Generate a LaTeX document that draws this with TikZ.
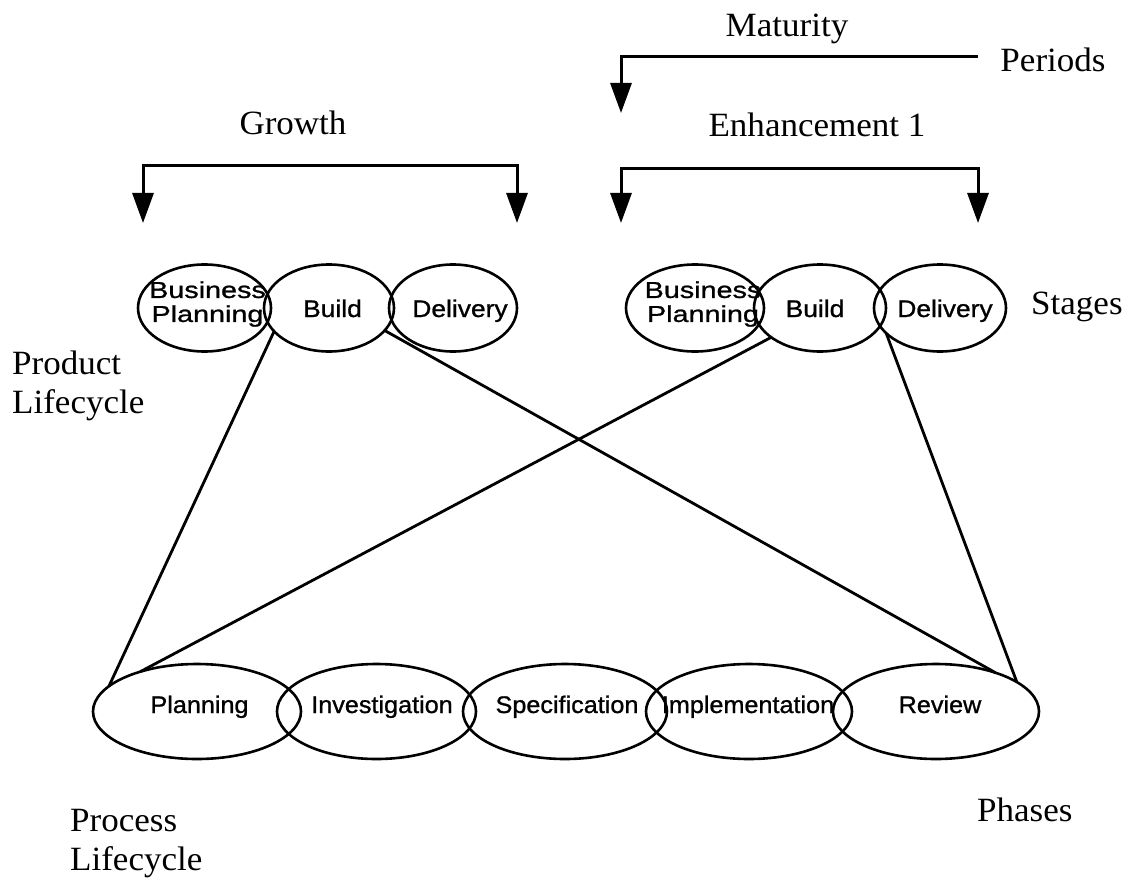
\documentclass[tikz,border=0pt]{standalone}
\usepackage{fontspec}
\setmainfont{Liberation Serif}[FakeStretch=1.03]
\newfontfamily\stagefont{Liberation Sans}[FakeStretch=1.1,FakeBold=1]
\newfontfamily\widefont{Liberation Sans}[FakeStretch=1.25,FakeBold=1]
\newfontfamily\phasefont{Liberation Sans}[FakeStretch=1.05,FakeBold=1]
\usetikzlibrary{shapes.geometric,arrows.meta}
\begin{document}
\begin{tikzpicture}[x=1pt,y=-1pt,
  oval/.style={draw, ellipse, line width=2.6pt, inner sep=0pt, outer sep=0pt},
  stage/.style={oval, minimum width=#1, minimum height=87pt},
  phase/.style={oval, minimum width=#1, minimum height=95pt},
  heading/.style={font=\fontsize{34}{39}\selectfont, inner sep=0pt, align=left},
  stagetext/.style={font=\stagefont\fontsize{24}{25}\selectfont, inner sep=0pt, text height=18pt, text depth=0pt},
  bptext/.style={font=\widefont\fontsize{23}{24}\selectfont, inner sep=0pt, align=center},
  phasetext/.style={font=\phasefont\fontsize{24}{25}\selectfont, inner sep=0pt, text height=14pt, text depth=11pt},
  link/.style={line width=2.8pt},
  bracket/.style={line width=3pt, line join=miter},
  bigtri/.tip={Triangle[width=21pt,length=30pt]}
]
\useasboundingbox (0,0) rectangle (1147,877);

% period and stage brackets
\coordinate (mL) at (621,57);   \coordinate (mR) at (978,57);   \coordinate (mLt) at (621,113);
\coordinate (gL) at (143,166);  \coordinate (gR) at (517,166);
\coordinate (gLt) at (143,223); \coordinate (gRt) at (517,223);
\coordinate (eL) at (621,169);  \coordinate (eR) at (978,169);
\coordinate (eLt) at (621,223); \coordinate (eRt) at (978,223);

\draw[bracket, bigtri-] (mLt) -- (mL) -- (mR);
\draw[bracket, bigtri-bigtri] (gLt) -- (gL) -- (gR) -- (gRt);
\draw[bracket, bigtri-bigtri] (eLt) -- (eL) -- (eR) -- (eRt);

\node[heading, anchor=base] (maturity) at (787,37) {Maturity};
\node[heading, anchor=base] (periods) at (1053,72) {Periods};
\node[heading, anchor=base] (growth) at (293,135) {Growth};
\node[heading, anchor=base] (enh) at (817,137) {Enhancement 1};
\node[heading, anchor=base west] (stages) at (1031,314) {Stages};
\node[heading, anchor=north west] (prodlc) at (12,351) {Product\\Lifecycle};
\node[heading, anchor=north west] (proclc) at (70,809) {Process\\Lifecycle};
\node[heading, anchor=base west] (phases) at (977,821) {Phases};

% product lifecycle stages
\node[stage=133pt] (bp1) at (204.5,308) {};
\node[stage=130pt] (bd1) at (329,308) {};
\node[stage=128pt] (dl1) at (453,308) {};
\node[stage=138pt] (bp2) at (695,308) {};
\node[stage=132pt] (bd2) at (820,308) {};
\node[stage=132pt] (dl2) at (940,308) {};

\node[bptext] (bp1t) at (207.5,304) {Business\\Planning};
\node[stagetext] (bd1t) at (332.5,308) {Build};
\node[stagetext] (dl1t) at (460,308) {Delivery};
\node[bptext] (bp2t) at (703,304) {Business\\Planning};
\node[stagetext] (bd2t) at (815,308) {Build};
\node[stagetext] (dl2t) at (945,308) {Delivery};

% process lifecycle phases
\node[phase=208pt] (pl) at (197,711.5) {};
\node[phase=199pt] (inv) at (376.5,711.5) {};
\node[phase=204pt] (spec) at (565,711.5) {};
\node[phase=206pt] (impl) at (749,711.5) {};
\node[phase=206pt] (rev) at (936,711.5) {};

\node[phasetext] (plt) at (199.5,711.5) {Planning};
\node[phasetext] (invt) at (382,711.5) {Investigation};
\node[phasetext] (spect) at (567,711.5) {Specification};
\node[phasetext] (implt) at (748,711.5) {Implementation};
\node[phasetext] (revt) at (940,711.5) {Review};

% stage-to-phase links
\draw[link] (bd1.203) -- (pl.164);
\draw[link] (bd2.211) -- (pl.145);
\draw[link] (bd1.338) -- (rev.33);
\draw[link] (dl2.205) -- (rev.20);
\end{tikzpicture}
\end{document}
